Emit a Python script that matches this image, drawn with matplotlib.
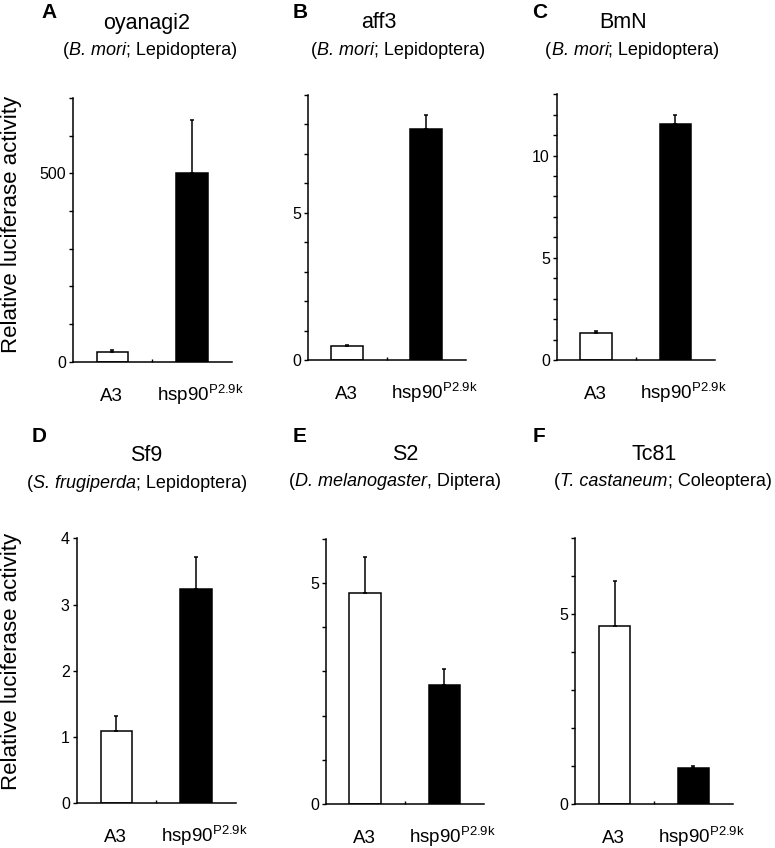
import matplotlib
matplotlib.use("Agg")
import matplotlib.pyplot as plt
import matplotlib.transforms as mtransforms
import numpy as np

plt.rcParams["font.family"] = ["Liberation Sans", "DejaVu Sans"]
plt.rcParams["mathtext.fontset"] = "custom"
plt.rcParams["mathtext.rm"] = "Liberation Sans"
plt.rcParams["mathtext.it"] = "Liberation Sans:italic"
plt.rcParams["mathtext.bf"] = "Liberation Sans:bold"

# data
panel_letters = ["A", "B", "C", "D", "E", "F"]
cell_lines = ["oyanagi2", "aff3", "BmN", "Sf9", "S2", "Tc81"]
species_names = ["B. mori", "B. mori", "B. mori", "S. frugiperda", "D. melanogaster", "T. castaneum"]
species_sep = [";", ";", ";", ";", ",", ";"]
species_orders = ["Lepidoptera", "Lepidoptera", "Lepidoptera", "Lepidoptera", "Diptera", "Coleoptera"]
constructs = ["A3", r"hsp90$^{\mathrm{P2.9k}}$"]
a3_mean = [26, 0.47, 1.33, 1.09, 4.76, 4.70]
a3_err = [4, 0.03, 0.07, 0.23, 0.82, 1.17]
hsp_mean = [500, 7.86, 11.56, 3.23, 2.69, 0.96]
hsp_err = [141, 0.45, 0.44, 0.49, 0.37, 0.06]
y_max = [700, 9, 13, 4, 6, 7]
y_step = [100, 1, 1, 1, 1, 1]
y_labeled = [[0, 500], [0, 5], [0, 5, 10], [0, 1, 2, 3, 4], [0, 5], [0, 5]]

# layout in pixels (left, top, right, baseline)
W, H = 775, 848
axes_px = [
    (72.7, 98, 231.7, 361.7),
    (307.7, 95, 465.7, 360),
    (556.7, 94.3, 715, 360),
    (76.7, 538.3, 235.7, 803.3),
    (325.7, 538.5, 484, 804),
    (575.3, 538.3, 732.7, 804.3),
]
letter_px = [(49, 12), (300, 12), (540, 12), (39, 437), (300, 437), (539, 437)]
title_px = [(146.5, 28.5), (378.5, 28.5), (623, 28.5), (146, 461), (405.7, 460.5), (654, 460.5)]
sub_px = [(150, 55), (398, 55), (632.5, 55), (137, 487.5), (395, 486), (663, 486)]

fig = plt.figure(figsize=(W / 100, H / 100), dpi=100)
renderer = fig.canvas.get_renderer()


def fx(x):
    return x / W


def fy(y):
    return 1 - y / H


def rich_text(xc, y, pieces, size):
    # place normal / italic pieces side by side, centred on xc
    texts = [fig.text(0, fy(y), s, fontsize=size, style=st, va="baseline") for s, st in pieces]
    widths = [t.get_window_extent(renderer).width for t in texts]
    x = xc - sum(widths) / 2
    for t, w in zip(texts, widths):
        t.set_x(fx(x))
        x += w


for i in range(6):
    left, top, right, base = axes_px[i]
    ax = fig.add_axes([fx(left), fy(base), (right - left) / W, (base - top) / H])

    x = [0, 1]
    means = [a3_mean[i], hsp_mean[i]]
    errs = [a3_err[i], hsp_err[i]]
    ax.bar(x, means, width=0.4, color=["white", "black"], edgecolor="black", linewidth=1.1, zorder=2)
    ax.errorbar(x, means, yerr=[[0, 0], errs], fmt="none", ecolor="black",
                elinewidth=1.1, capsize=1.2, capthick=1.1, zorder=3)

    ax.set_xlim(-0.5, 1.5)
    ax.set_ylim(0, y_max[i])
    ticks = np.arange(0, y_max[i] + y_step[i] / 2, y_step[i])
    ax.set_yticks(ticks)
    ax.set_yticklabels([f"{t:g}" if t in y_labeled[i] else "" for t in ticks])
    ax.tick_params(axis="y", direction="out", length=3, width=1.0, pad=2, labelsize=11.5)
    ax.set_xticks([0.5])
    ax.set_xticklabels([""])
    ax.tick_params(axis="x", direction="in", length=2, width=1.0)

    for side in ["top", "right"]:
        ax.spines[side].set_visible(False)
    for side in ["left", "bottom"]:
        ax.spines[side].set_linewidth(1.1)

    lab_trans = ax.get_xaxis_transform()
    ax.text(0, 0, constructs[0], fontsize=13.5, ha="center", va="baseline",
            transform=lab_trans + mtransforms.ScaledTranslation(-0.01, -0.39, fig.dpi_scale_trans))
    ax.text(1, 0, constructs[1], fontsize=13.5, ha="center", va="baseline",
            transform=lab_trans + mtransforms.ScaledTranslation(0.08, -0.39, fig.dpi_scale_trans))

    lx, ly = letter_px[i]
    fig.text(fx(lx), fy(ly), panel_letters[i], fontsize=15, fontweight="bold", ha="center", va="center")
    tx, ty = title_px[i]
    fig.text(fx(tx), fy(ty), cell_lines[i], fontsize=15.5, ha="center", va="baseline")
    sx, sy = sub_px[i]
    rich_text(sx, sy, [("(", "normal"), (species_names[i], "italic"),
                       (f"{species_sep[i]} {species_orders[i]})", "normal")], 13)

fig.text(fx(12), fy(224), "Relative luciferase activity", fontsize=16, rotation=90, ha="center", va="center")
fig.text(fx(12), fy(661), "Relative luciferase activity", fontsize=16, rotation=90, ha="center", va="center")

fig.savefig("out.png", dpi=100, facecolor="white")
